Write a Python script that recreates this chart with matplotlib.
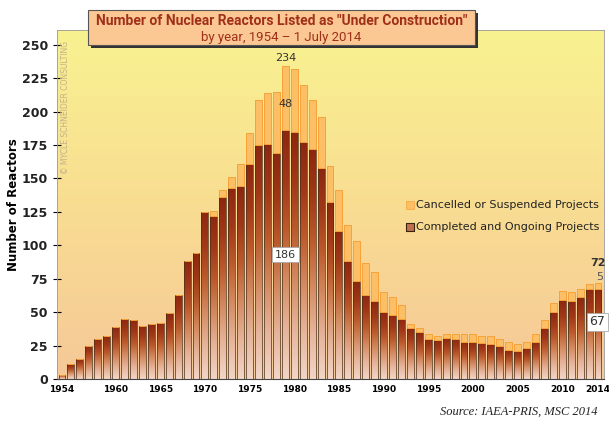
import numpy as np
import matplotlib
matplotlib.use('Agg')
import matplotlib.pyplot as plt
from matplotlib.colors import LinearSegmentedColormap
from matplotlib.patches import Rectangle

# Reactors under construction per year
years = list(range(1954, 2015))
completed = [3, 11, 15, 25, 30, 32, 39, 45, 44, 40,
             41, 42, 49, 63, 88, 94, 125, 122, 136, 143,
             144, 161, 175, 176, 169, 186, 185, 177, 172, 158,
             132, 111, 88, 73, 63, 58, 50, 48, 45, 38,
             35, 30, 29, 31, 30, 28, 28, 27, 26, 25,
             22, 21, 23, 28, 38, 50, 59, 58, 61, 67,
             67]
cancelled = [0, 0, 0, 0, 0, 0, 0, 0, 0, 0,
             0, 0, 0, 0, 0, 0, 0, 4, 5, 8,
             17, 23, 34, 38, 46, 48, 47, 43, 37, 38,
             27, 30, 27, 30, 24, 22, 15, 13, 10, 3,
             3, 4, 3, 3, 4, 6, 6, 5, 6, 5,
             6, 5, 5, 6, 6, 7, 7, 7, 6, 4,
             5]
xtick_years = [1954, 1960, 1965, 1970, 1975, 1980, 1985, 1990, 1995, 2000, 2005, 2010, 2014]
yticks = list(range(0, 251, 25))

fig = plt.figure(figsize=(6.09, 4.21), dpi=100)
ax = fig.add_axes([57 / 609, 1 - 379 / 421, 547 / 609, 349 / 421])

# background gradient (yellow at top to peach at bottom)
bg_cmap = LinearSegmentedColormap.from_list('bg', ['#f5c898', '#f9dd92', '#f8f290'])
grad = np.linspace(0, 1, 256).reshape(-1, 1)
ax.imshow(grad, extent=[0, 1, 0, 1], transform=ax.transAxes, aspect='auto',
          cmap=bg_cmap, origin='lower', zorder=0)

# completed / ongoing bars with a vertical gradient fill
bar_cmap = LinearSegmentedColormap.from_list(
    'bar', ['#f2d6c8', '#e6b49c', '#d48a62', '#bc5a2e', '#a03818', '#8c2610'])
bars = ax.bar(years, completed, width=0.78, facecolor='none', edgecolor='#4a3018',
              linewidth=0.5, zorder=3)
for rect in bars:
    x0, w, h = rect.get_x(), rect.get_width(), rect.get_height()
    im = ax.imshow(grad, extent=[x0, x0 + w, 0, h], aspect='auto', cmap=bar_cmap,
                   origin='lower', zorder=2, interpolation='bilinear')
    im.set_clip_path(rect)

# cancelled / suspended on top
ax.bar(years, cancelled, bottom=completed, width=0.78, color='#fdbf66',
       edgecolor='#f6a23a', linewidth=0.7, zorder=3)

ax.set_xlim(1953.44, 2014.67)
ax.set_ylim(0, 261)
ax.set_yticks(yticks)
ax.set_yticklabels([str(t) for t in yticks], fontsize=9, fontweight='bold', color='#222222')
ax.set_xticks(xtick_years)
ax.set_xticklabels([str(t) for t in xtick_years], fontsize=6.5, fontweight='bold')
ax.tick_params(axis='y', direction='inout', length=6, width=0.8)
ax.tick_params(axis='x', length=0, pad=4)
for side in ['top', 'right', 'left']:
    ax.spines[side].set_color('#999999')
    ax.spines[side].set_linewidth(0.6)
ax.spines['bottom'].set_color('#444444')
ax.set_ylabel('Number of Reactors', fontsize=8.5, fontweight='bold')
ax.yaxis.set_label_coords(-37 / 547, 0.5)

# copyright note
ax.text(0.016, 0.97, '\u00a9 MYCLE SCHNEIDER CONSULTING', transform=ax.transAxes,
        rotation=90, ha='center', va='top', fontsize=5.5, color='#c2b18a')

# value annotations
ax.text(1979, 236, '234', ha='center', va='bottom', fontsize=8, color='#333333')
ax.text(1979, 206, '48', ha='center', va='center', fontsize=8, color='#333333')
ax.text(1979, 93, '186', ha='center', va='center', fontsize=8, color='#333333',
        bbox=dict(boxstyle='square,pad=0.25', fc='white', ec='#aaaaaa', lw=0.6))
ax.text(2014, 86.5, '72', ha='center', va='center', fontsize=8, fontweight='bold', color='#333333')
ax.text(2014.2, 76, '5', ha='center', va='center', fontsize=8, color='#555555')
ax.text(2013.9, 43, '67', ha='center', va='center', fontsize=9, color='#333333', zorder=5,
        bbox=dict(boxstyle='square,pad=0.2', fc='white', ec='#aaaaaa', lw=0.6))

# legend
lx, ly = 1993.0, 130.5
ax.scatter([lx], [ly], marker='s', s=30, color='#fdbf66', edgecolor='#f6a23a', lw=0.5, zorder=4)
ax.text(lx + 0.6, ly, 'Cancelled or Suspended Projects', va='center', fontsize=8, color='#222222')
ax.scatter([lx], [ly - 16.5], marker='s', s=30, color='#c0704e', edgecolor='#3a2410', lw=0.8, zorder=4)
ax.text(lx + 0.6, ly - 16.5, 'Completed and Ongoing Projects', va='center', fontsize=8, color='#222222')

# title box with drop shadow
fig.patches.append(Rectangle((91 / 609, 1 - 48 / 421), 387 / 609, 35 / 421,
                             transform=fig.transFigure, fc='#333333', ec='none', zorder=5))
fig.patches.append(Rectangle((88 / 609, 1 - 45 / 421), 387 / 609, 35 / 421,
                             transform=fig.transFigure, fc='#fbc793', ec='#555555', lw=0.8, zorder=6))
fig.text(281.5 / 609, 1 - 21 / 421, 'Number of Nuclear Reactors Listed as "Under Construction"',
         ha='center', va='center', fontsize=10, fontweight='bold', color='#a0301a',
         family='Roboto', zorder=7)
fig.text(281.5 / 609, 1 - 37 / 421, 'by year, 1954 \u2013 1 July 2014',
         ha='center', va='center', fontsize=9.5, color='#a0301a', family='Roboto', zorder=7)

fig.text(598 / 609, 1 - 412 / 421, 'Source: IAEA-PRIS, MSC 2014', ha='right', va='center',
         fontsize=9, style='italic', family='Liberation Serif', color='#222222')

fig.savefig('out.png', dpi=100)
